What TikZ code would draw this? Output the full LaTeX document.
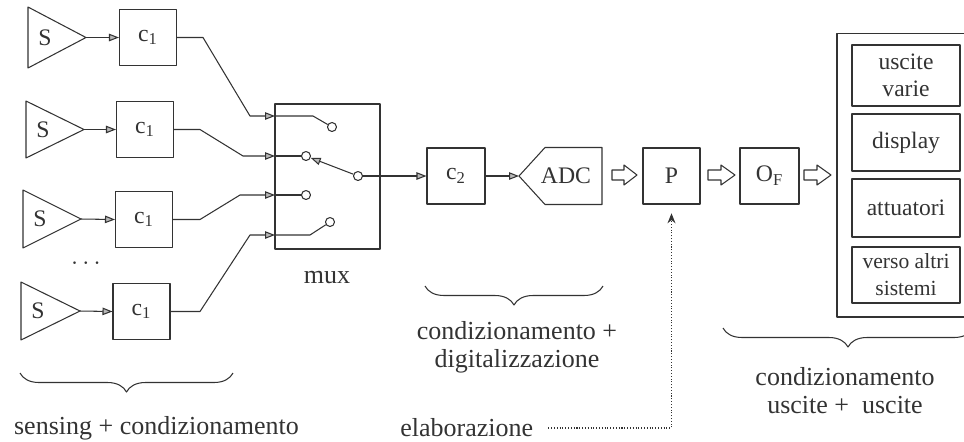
\documentclass[tikz,border=0pt]{standalone}
\usepackage{fontspec}
\setmainfont{Liberation Serif}
\usetikzlibrary{arrows.meta,decorations.pathreplacing}

\begin{document}
\begin{tikzpicture}[x=0.02cm,y=-0.02cm,line width=0.6pt,color=black!80,line join=round,
  >={Triangle[length=2mm,width=1.5mm,fill=gray!55]},
  font=\fontsize{13.5}{15}\selectfont,
  box/.style={draw,minimum width=1.14cm,minimum height=1.12cm,inner sep=0pt},
  outbox/.style={draw,minimum width=2.16cm,inner sep=0pt,align=center,font=\fontsize{13.4}{15.3}\selectfont},
  pin/.style={draw,circle,fill=white,minimum size=0.18cm,inner sep=0pt},
  bracedown/.style={decorate,decoration={brace,mirror,amplitude=0.38cm}},
  lab/.style={align=center,font=\fontsize{14.8}{15.9}\selectfont},
  dots/.style={densely dotted,-{Stealth[length=2mm,width=1.6mm]},shorten <=5pt,shorten >=5pt}]
\useasboundingbox (0,0) rectangle (964,441);
% sensori
\draw (28,7) -- (86,37.5) -- (28,68) -- cycle;
\draw (26,101) -- (84,129.5) -- (26,158) -- cycle;
\draw (23,190) -- (81,219) -- (23,248) -- cycle;
\draw (21,282) -- (80,311) -- (21,340) -- cycle;
\coordinate (t1) at (86,37.5);
\coordinate (t2) at (84,129.5);
\coordinate (t3) at (81,219);
\coordinate (t4) at (80,311);
\node (s1) at (45,37.5) {S};
\node (s2) at (43,129.5) {S};
\node (s3) at (40,219) {S};
\node (s4) at (38,311) {S};
\node (dots) at (86,264) {$\cdots$};
% condizionamento
\node[box] (c1a) at (148,37.5) {c\textsubscript{1}};
\node[box] (c1b) at (145,129.5) {c\textsubscript{1}};
\node[box] (c1c) at (144,219.5) {c\textsubscript{1}};
\node[box] (c1d) at (141.5,311.5) {c\textsubscript{1}};
\draw[->] (t1) -- (c1a.west);
\draw[->] (t2) -- (c1b.west);
\draw[->] (t3) -- (c1c.west);
\draw[->] (t4) -- (c1d.west);
% mux
\node[draw,minimum width=2.1cm,minimum height=2.9cm] (mux) at (327.5,176.5) {};
\node[font=\fontsize{14.8}{16}\selectfont] (muxlab) at (327,277) {mux};
\coordinate (in1) at (275,116);
\coordinate (in2) at (275,156);
\coordinate (in3) at (275,195);
\coordinate (in4) at (275,235);
\node[pin] (k1) at (332,127) {};
\node[pin] (k2) at (306,156) {};
\node[pin] (k3) at (306,195) {};
\node[pin] (k4) at (330,222) {};
\node[pin] (kc) at (358,176) {};
\draw[->] (c1a.east) -- (203,37.5) -- (250,116) -- (in1);
\draw[->] (c1b.east) -- (200,129.5) -- (243,156) -- (in2);
\draw[->] (c1c.east) -- (200,219.5) -- (240,195) -- (in3);
\draw[->] (c1d.east) -- (200,311.5) -- (250,235) -- (in4);
\draw (in1) -- (313,116) -- (k1);
\draw (in2) -- (k2);
\draw (in3) -- (k3);
\draw (in4) -- (310,235) -- (k4);
\draw[->] (kc) -- (k2);
% conversione
\node[box,minimum width=1.16cm] (c2) at (456,176) {c\textsubscript{2}};
\draw[->] (kc) -- (c2.west);
\draw (519,176) -- (545,147.5) -- (602,147.5) -- (602,204.5) -- (545,204.5) -- cycle;
\coordinate (adcin) at (519,176);
\node (adc) at (566,176) {ADC};
\draw[->] (c2.east) -- (adcin);
% elaborazione e uscite
\node[box] (p) at (671.5,176) {P};
\node[box,minimum width=1.18cm] (of) at (769.5,176) {O\textsubscript{F}};
\draw (612,170) -- ++(12,0) -- ++(0,-5) -- ++(13,10) -- ++(-13,10) -- ++(0,-5) -- ++(-12,0) -- cycle;
\draw (708,170) -- ++(13,0) -- ++(0,-5) -- ++(14,10) -- ++(-14,10) -- ++(0,-5) -- ++(-13,0) -- cycle;
\draw (804,170) -- ++(13,0) -- ++(0,-5) -- ++(14,10) -- ++(-14,10) -- ++(0,-5) -- ++(-13,0) -- cycle;
\node[draw,minimum width=2.58cm,minimum height=5.68cm] (outs) at (901.5,175) {};
\node[outbox,minimum height=1.22cm] (o1) at (906,75.5) {uscite\\varie};
\node[outbox,minimum height=1.14cm] (o2) at (906,142.5) {display};
\node[outbox,minimum height=1.16cm] (o3) at (906,208) {attuatori};
\node[outbox,minimum height=1.12cm,font=\fontsize{12.3}{15.3}\selectfont] (o4) at (906,275) {verso altri\\sistemi};
% parentesi e didascalie
\draw[bracedown] (20,373) -- (233,373);
\draw[bracedown] (425,286) -- (603,286);
\draw[bracedown] (723,328) -- (973,328);
\node[lab] (lsens) at (156.5,428) {sensing + condizionamento};
\node[lab] (lconv) at (517,347) {condizionamento +\\digitalizzazione};
\node[lab] (louts) at (845,391) {condizionamento\\uscite + \ uscite};
\node[lab,anchor=west] (elab) at (394,428) {elaborazione};
\draw[dots] (elab.east) -- (p |- elab) -- (p.south);
\end{tikzpicture}
\end{document}
